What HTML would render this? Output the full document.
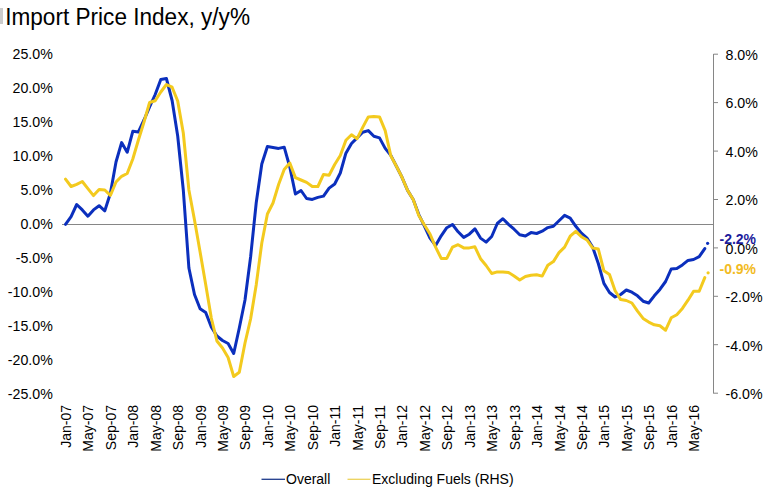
<!DOCTYPE html>
<html><head><meta charset="utf-8"><style>
html,body{margin:0;padding:0;background:#fff;}
body{width:766px;height:496px;overflow:hidden;}
svg{display:block;}
text{font-family:"Liberation Sans",sans-serif;}
</style></head><body>
<svg width="766" height="496" viewBox="0 0 766 496">
<rect x="0" y="0" width="766" height="496" fill="#fff"/>
<rect x="0" y="8" width="3" height="16" fill="#cbcbcb"/>
<text transform="translate(5.2,24.8) scale(1,1.09)" font-size="22.6" fill="#000">Import Price Index, y/y%</text>

<text x="52.8" y="59.3" font-size="14.2" text-anchor="end" fill="#000">25.0%</text>
<text x="52.8" y="93.3" font-size="14.2" text-anchor="end" fill="#000">20.0%</text>
<text x="52.8" y="127.3" font-size="14.2" text-anchor="end" fill="#000">15.0%</text>
<text x="52.8" y="161.2" font-size="14.2" text-anchor="end" fill="#000">10.0%</text>
<text x="52.8" y="195.2" font-size="14.2" text-anchor="end" fill="#000">5.0%</text>
<text x="52.8" y="229.2" font-size="14.2" text-anchor="end" fill="#000">0.0%</text>
<text x="52.8" y="263.2" font-size="14.2" text-anchor="end" fill="#000">-5.0%</text>
<text x="52.8" y="297.2" font-size="14.2" text-anchor="end" fill="#000">-10.0%</text>
<text x="52.8" y="331.1" font-size="14.2" text-anchor="end" fill="#000">-15.0%</text>
<text x="52.8" y="365.1" font-size="14.2" text-anchor="end" fill="#000">-20.0%</text>
<text x="52.8" y="399.1" font-size="14.2" text-anchor="end" fill="#000">-25.0%</text>
<text x="725.5" y="60.0" font-size="14.2" fill="#000">8.0%</text>
<line x1="713.5" y1="54.2" x2="718" y2="54.2" stroke="#868686" stroke-width="1"/>
<text x="725.5" y="108.4" font-size="14.2" fill="#000">6.0%</text>
<line x1="713.5" y1="102.6" x2="718" y2="102.6" stroke="#868686" stroke-width="1"/>
<text x="725.5" y="156.9" font-size="14.2" fill="#000">4.0%</text>
<line x1="713.5" y1="151.1" x2="718" y2="151.1" stroke="#868686" stroke-width="1"/>
<text x="725.5" y="205.3" font-size="14.2" fill="#000">2.0%</text>
<line x1="713.5" y1="199.5" x2="718" y2="199.5" stroke="#868686" stroke-width="1"/>
<text x="725.5" y="253.7" font-size="14.2" fill="#000">0.0%</text>
<line x1="713.5" y1="247.9" x2="718" y2="247.9" stroke="#868686" stroke-width="1"/>
<text x="725.5" y="302.1" font-size="14.2" fill="#000">-2.0%</text>
<line x1="713.5" y1="296.3" x2="718" y2="296.3" stroke="#868686" stroke-width="1"/>
<text x="725.5" y="350.5" font-size="14.2" fill="#000">-4.0%</text>
<line x1="713.5" y1="344.7" x2="718" y2="344.7" stroke="#868686" stroke-width="1"/>
<text x="725.5" y="399.0" font-size="14.2" fill="#000">-6.0%</text>
<line x1="713.5" y1="393.2" x2="718" y2="393.2" stroke="#868686" stroke-width="1"/>
<line x1="713.5" y1="54" x2="713.5" y2="393.5" stroke="#868686" stroke-width="1"/>
<line x1="62" y1="224.5" x2="713.5" y2="224.5" stroke="#868686" stroke-width="1"/>
<text transform="translate(70.8,405) rotate(-90)" font-size="14" text-anchor="end" fill="#000">Jan-07</text>
<text transform="translate(93.3,405) rotate(-90)" font-size="14" text-anchor="end" fill="#000">May-07</text>
<text transform="translate(115.7,405) rotate(-90)" font-size="14" text-anchor="end" fill="#000">Sep-07</text>
<text transform="translate(138.2,405) rotate(-90)" font-size="14" text-anchor="end" fill="#000">Jan-08</text>
<text transform="translate(160.6,405) rotate(-90)" font-size="14" text-anchor="end" fill="#000">May-08</text>
<text transform="translate(183.0,405) rotate(-90)" font-size="14" text-anchor="end" fill="#000">Sep-08</text>
<text transform="translate(205.5,405) rotate(-90)" font-size="14" text-anchor="end" fill="#000">Jan-09</text>
<text transform="translate(227.9,405) rotate(-90)" font-size="14" text-anchor="end" fill="#000">May-09</text>
<text transform="translate(250.4,405) rotate(-90)" font-size="14" text-anchor="end" fill="#000">Sep-09</text>
<text transform="translate(272.8,405) rotate(-90)" font-size="14" text-anchor="end" fill="#000">Jan-10</text>
<text transform="translate(295.2,405) rotate(-90)" font-size="14" text-anchor="end" fill="#000">May-10</text>
<text transform="translate(317.7,405) rotate(-90)" font-size="14" text-anchor="end" fill="#000">Sep-10</text>
<text transform="translate(340.1,405) rotate(-90)" font-size="14" text-anchor="end" fill="#000">Jan-11</text>
<text transform="translate(362.6,405) rotate(-90)" font-size="14" text-anchor="end" fill="#000">May-11</text>
<text transform="translate(385.0,405) rotate(-90)" font-size="14" text-anchor="end" fill="#000">Sep-11</text>
<text transform="translate(407.4,405) rotate(-90)" font-size="14" text-anchor="end" fill="#000">Jan-12</text>
<text transform="translate(429.9,405) rotate(-90)" font-size="14" text-anchor="end" fill="#000">May-12</text>
<text transform="translate(452.3,405) rotate(-90)" font-size="14" text-anchor="end" fill="#000">Sep-12</text>
<text transform="translate(474.8,405) rotate(-90)" font-size="14" text-anchor="end" fill="#000">Jan-13</text>
<text transform="translate(497.2,405) rotate(-90)" font-size="14" text-anchor="end" fill="#000">May-13</text>
<text transform="translate(519.7,405) rotate(-90)" font-size="14" text-anchor="end" fill="#000">Sep-13</text>
<text transform="translate(542.1,405) rotate(-90)" font-size="14" text-anchor="end" fill="#000">Jan-14</text>
<text transform="translate(564.5,405) rotate(-90)" font-size="14" text-anchor="end" fill="#000">May-14</text>
<text transform="translate(587.0,405) rotate(-90)" font-size="14" text-anchor="end" fill="#000">Sep-14</text>
<text transform="translate(609.4,405) rotate(-90)" font-size="14" text-anchor="end" fill="#000">Jan-15</text>
<text transform="translate(631.9,405) rotate(-90)" font-size="14" text-anchor="end" fill="#000">May-15</text>
<text transform="translate(654.3,405) rotate(-90)" font-size="14" text-anchor="end" fill="#000">Sep-15</text>
<text transform="translate(676.7,405) rotate(-90)" font-size="14" text-anchor="end" fill="#000">Jan-16</text>
<text transform="translate(699.2,405) rotate(-90)" font-size="14" text-anchor="end" fill="#000">May-16</text>
<polyline points="65.5,224.4 71.1,216.6 76.7,204.5 82.3,209.9 87.9,216.2 93.5,209.9 99.1,205.7 104.8,210.8 110.4,193.3 116.0,162.0 121.6,142.6 127.2,152.3 132.8,131.3 138.4,132.0 144.0,120.0 149.6,106.8 155.2,94.5 160.8,79.4 166.4,78.5 172.1,100.5 177.7,136.0 183.3,190.0 188.9,268.0 194.5,294.5 200.1,308.7 205.7,312.5 211.3,326.9 216.9,336.0 222.5,340.5 228.1,343.5 233.7,353.5 239.3,328.0 245.0,300.0 250.6,257.0 256.2,203.0 261.8,164.0 267.4,146.5 273.0,147.5 278.6,148.4 284.2,147.2 289.8,167.0 295.4,194.0 301.0,190.5 306.6,198.5 312.3,199.4 317.9,197.4 323.5,196.1 329.1,188.1 334.7,184.0 340.3,173.0 345.9,153.2 351.5,143.5 357.1,137.9 362.7,132.3 368.3,130.6 373.9,136.3 379.5,137.9 385.2,148.4 390.8,155.4 396.4,166.2 402.0,177.3 407.6,190.4 413.2,199.5 418.8,214.6 424.4,226.0 430.0,238.2 435.6,245.5 441.2,235.8 446.8,227.7 452.5,224.5 458.1,231.8 463.7,237.4 469.3,234.2 474.9,228.8 480.5,238.1 486.1,242.1 491.7,236.5 497.3,223.5 502.9,218.7 508.5,224.4 514.1,229.2 519.7,234.8 525.4,236.0 531.0,232.6 536.6,233.5 542.2,231.2 547.8,227.6 553.4,226.3 559.0,220.8 564.6,215.4 570.2,218.1 575.8,226.3 581.4,233.1 587.0,238.1 592.7,247.2 598.3,263.5 603.9,283.4 609.5,292.5 615.1,297.0 620.7,294.5 626.3,290.0 631.9,292.2 637.5,295.8 643.1,301.2 648.7,303.0 654.3,295.8 659.9,289.4 665.6,281.5 671.2,269.0 676.8,268.5 682.4,264.9 688.0,260.4 693.6,259.5 699.2,256.7 704.8,248.6" fill="none" stroke="#0b2fbd" stroke-width="3" stroke-linejoin="round" stroke-linecap="round"/>
<polyline points="65.5,179.1 71.1,186.5 76.7,184.3 82.3,181.5 87.9,188.7 93.5,195.6 99.1,189.5 104.8,190.0 110.4,195.3 116.0,182.0 121.6,176.3 127.2,173.5 132.8,159.0 138.4,140.0 144.0,122.0 149.6,102.5 155.2,100.8 160.8,92.0 166.4,84.5 172.1,87.2 177.7,101.0 183.3,133.0 188.9,190.0 194.5,220.0 200.1,252.0 205.7,284.5 211.3,318.0 216.9,341.0 222.5,348.0 228.1,357.5 233.7,376.5 239.3,372.2 245.0,343.0 250.6,319.0 256.2,285.0 261.8,243.0 267.4,214.0 273.0,203.0 278.6,184.5 284.2,169.5 289.8,163.0 295.4,177.6 301.0,180.0 306.6,182.4 312.3,186.5 317.9,186.5 323.5,174.4 329.1,175.2 334.7,164.5 340.3,155.5 345.9,140.3 351.5,134.7 357.1,138.7 362.7,127.4 368.3,116.9 373.9,116.5 379.5,116.9 385.2,130.6 390.8,155.8 396.4,166.2 402.0,177.3 407.6,190.4 413.2,199.5 418.8,215.5 424.4,225.0 430.0,234.0 435.6,247.1 441.2,258.4 446.8,258.4 452.5,247.1 458.1,244.7 463.7,247.9 469.3,247.9 474.9,246.8 480.5,258.7 486.1,265.5 491.7,273.5 497.3,271.9 502.9,271.9 508.5,272.4 514.1,276.0 519.7,280.0 525.4,276.5 531.0,275.2 536.6,274.7 542.2,276.1 547.8,265.3 553.4,261.6 559.0,252.6 564.6,247.1 570.2,236.2 575.8,231.3 581.4,236.7 587.0,240.0 592.7,248.1 598.3,249.0 603.9,270.8 609.5,274.4 615.1,290.7 620.7,299.6 626.3,300.5 631.9,303.0 637.5,311.2 643.1,318.4 648.7,322.1 654.3,324.8 659.9,325.7 665.6,330.2 671.2,317.8 676.8,314.7 682.4,308.4 688.0,300.2 693.6,291.2 699.2,291.2 704.8,277.6" fill="none" stroke="#f3ca1e" stroke-width="3" stroke-linejoin="round" stroke-linecap="round"/>
<circle cx="707.6" cy="243.3" r="1.6" fill="#0b2fbd"/>
<circle cx="708.1" cy="272.8" r="1.6" fill="#f3ca1e"/>
<text x="719.5" y="243.6" font-size="14" font-weight="bold" fill="#1c1c9c">-2.2%</text>
<text x="719.5" y="274.3" font-size="14" font-weight="bold" fill="#f2bb22">-0.9%</text>
<line x1="261.5" y1="479.3" x2="285" y2="479.3" stroke="#1f3b8c" stroke-width="1.3"/>
<text x="286" y="484" font-size="14" fill="#000">Overall</text>
<line x1="347.5" y1="479.3" x2="370.5" y2="479.3" stroke="#ecd25a" stroke-width="1.3"/>
<text x="372" y="484" font-size="14" fill="#000">Excluding Fuels (RHS)</text>
</svg></body></html>
